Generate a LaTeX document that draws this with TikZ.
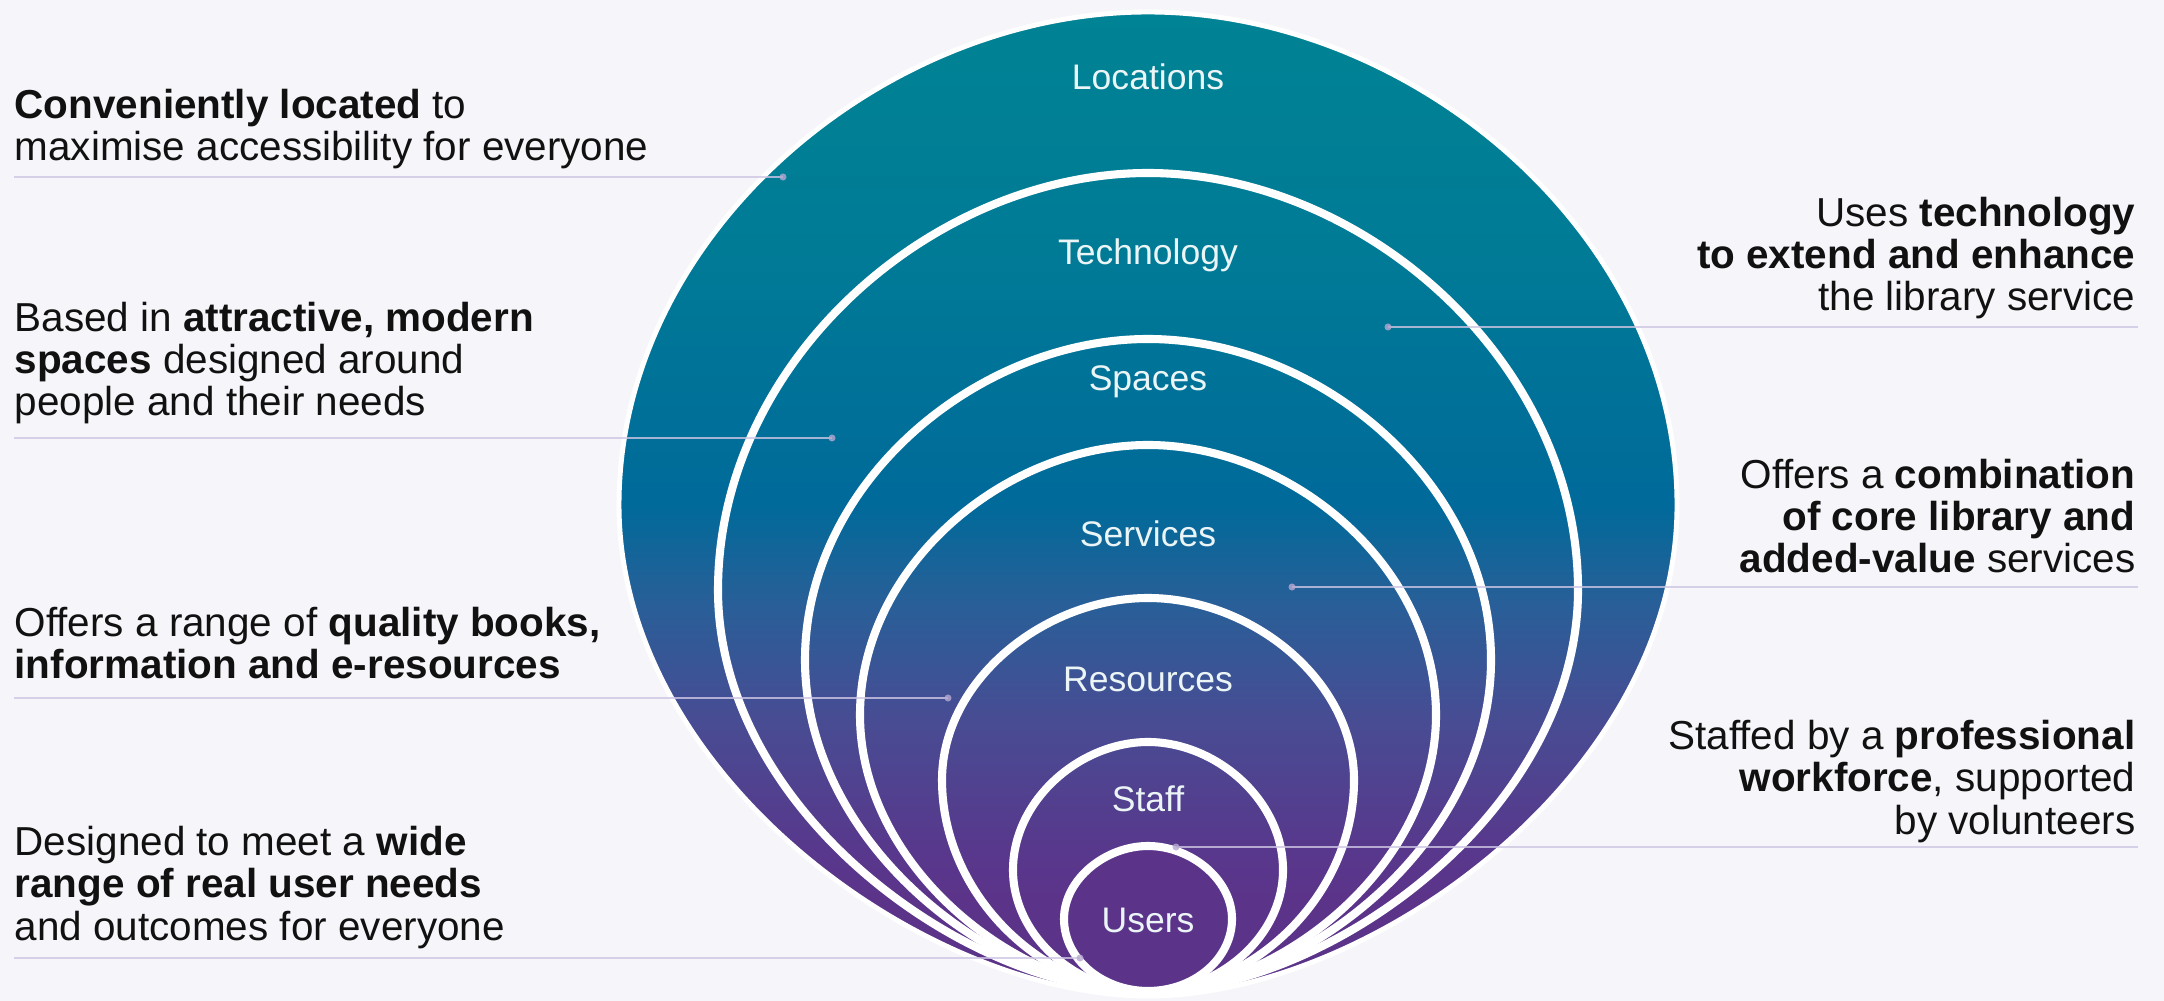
\documentclass[tikz,border=0pt]{standalone}
\usepackage{fontspec}
\setmainfont{Liberation Sans}
\usepackage{xcolor}
\usepackage{tikz}

\definecolor{fond}{RGB}{246,245,250}
\definecolor{encre}{RGB}{17,17,17}
\definecolor{trait}{RGB}{206,198,228}
\definecolor{violetbas}{RGB}{91,52,138}
\definecolor{violetmi}{RGB}{88,56,140}
\definecolor{indigo}{RGB}{72,76,147}
\definecolor{bleuviolet}{RGB}{40,95,152}
\definecolor{bleumi}{RGB}{0,106,154}
\definecolor{tealmi}{RGB}{0,123,150}
\definecolor{tealhaut}{RGB}{0,131,148}
\pgfdeclareverticalshading{degrade}{100bp}{color(0bp)=(violetbas); color(30bp)=(violetbas);
  color(32.5bp)=(violetmi); color(39bp)=(indigo); color(45bp)=(bleuviolet);
  color(50bp)=(bleumi); color(63bp)=(tealmi); color(75bp)=(tealhaut); color(100bp)=(tealhaut)}

\begin{document}
\begin{tikzpicture}[x=0.01cm,y=-0.01cm]
% Styles (MODIFIABLES)
\tikzstyle{anneau}=[draw=white,line width=2.3pt]
\tikzstyle{bord}=[draw=white,line width=1.4pt,shading=degrade]
\tikzstyle{etiquette}=[text=white!92!tealhaut,font=\fontsize{10.1}{12}\selectfont]
\tikzstyle{texteG}=[anchor=base west,align=left,inner sep=0,text=encre,font=\fontsize{11.5}{11.95}\selectfont]
\tikzstyle{texteD}=[anchor=base east,align=right,inner sep=0,text=encre,font=\fontsize{11.5}{11.95}\selectfont]
\tikzstyle{fleche}=[draw=trait,line width=0.55pt,opacity=0.8]
\tikzstyle{point}=[fill=trait!80!violetbas,opacity=0.8]
\tikzset{oeuf/.style args={#1/#2/#3/#4/#5}{insert path={
  (\CentreX,#3) .. controls ({\CentreX-#5*#4},#3) and ({\CentreX-#4},{#2+0.55*(#3-#2)}) .. ({\CentreX-#4},#2)
  .. controls ({\CentreX-#4},{#2-0.55*(#2-#1)}) and ({\CentreX-\Galbe*#4},#1) .. (\CentreX,#1)
  .. controls ({\CentreX+\Galbe*#4},#1) and ({\CentreX+#4},{#2-0.55*(#2-#1)}) .. ({\CentreX+#4},#2)
  .. controls ({\CentreX+#4},{#2+0.55*(#3-#2)}) and ({\CentreX+#5*#4},#3) .. (\CentreX,#3) -- cycle}}}
% Dimensions (MODIFIABLES)
\def\CentreX{1148}
\def\GaucheX{14}
\def\DroiteX{2138}
\def\Galbe{0.5}
% Fond
\fill[fond] (0,0) rectangle (2164,1001);
\useasboundingbox (0,0) rectangle (2164,1001);
% Anneaux (haut/milieu/bas/rayon/pincement)
\shade[bord] [oeuf=12/505/996/529/0.42];
\foreach \h/\m/\b/\r/\p in {173/590/992/430/0.42,339/660/992/343/0.45,445/715/992/288/0.45,
    598/780/992/206/0.5,742/870/992/135/0.52}
  \draw[anneau] [oeuf=\h/\m/\b/\r/\p];
\filldraw[anneau,fill=violetbas] [oeuf=846/919/991/84/0.55];
% Etiquettes des anneaux
\node[etiquette] (Lieux) at (\CentreX,77) {Locations};
\node[etiquette] (Techno) at (\CentreX,255) {Technology};
\node[etiquette] (Espaces) at (\CentreX,382) {Spaces};
\node[etiquette] (Services) at (\CentreX,534) {Services};
\node[etiquette] (Ressources) at (\CentreX,679) {Resources};
\node[etiquette] (Personnel) at (\CentreX,799) {Staff};
\node[etiquette] (Usagers) at (\CentreX,920) {Users};
% Textes de gauche (ancre sur la derniere ligne)
\node[texteG] (TLieux) at (\GaucheX,161) {\textbf{Conveniently located} to\\maximise accessibility for everyone};
\node[texteG] (TEspaces) at (\GaucheX,416) {Based in \textbf{attractive, modern}\\\textbf{spaces} designed around\\people and their needs};
\node[texteG] (TRessources) at (\GaucheX,679) {Offers a range of \textbf{quality books,}\\\textbf{information and e-resources}};
\node[texteG] (TUsagers) at (\GaucheX,940) {Designed to meet a \textbf{wide}\\\textbf{range of real user needs}\\and outcomes for everyone};
% Textes de droite
\node[texteD] (TTechno) at (2136,311) {Uses \textbf{technology}\\\textbf{to extend and enhance}\\the library service};
\node[texteD] (TServices) at (2136,573) {Offers a \textbf{combination}\\\textbf{of core library and}\\\textbf{added-value} services};
\node[texteD] (TPersonnel) at (2136,834) {Staffed by a \textbf{professional}\\\textbf{workforce}, supported\\by volunteers};
% Traits de rappel
\coordinate (LieuxA) at (\GaucheX,177);
\coordinate (LieuxB) at (783,177);
\coordinate (EspacesA) at (\GaucheX,438);
\coordinate (EspacesB) at (832,438);
\coordinate (RessourcesA) at (\GaucheX,698);
\coordinate (RessourcesB) at (948,698);
\coordinate (UsagersA) at (\GaucheX,958);
\coordinate (UsagersB) at (1080,958);
\coordinate (TechnoA) at (\DroiteX,327);
\coordinate (TechnoB) at (1388,327);
\coordinate (ServicesA) at (\DroiteX,587);
\coordinate (ServicesB) at (1292,587);
\coordinate (PersonnelA) at (\DroiteX,847);
\coordinate (PersonnelB) at (1176,847);
\draw[fleche] (LieuxA)--(LieuxB);
\draw[fleche] (EspacesA)--(EspacesB);
\draw[fleche] (RessourcesA)--(RessourcesB);
\draw[fleche] (UsagersA)--(UsagersB);
\draw[fleche] (TechnoA)--(TechnoB);
\draw[fleche] (ServicesA)--(ServicesB);
\draw[fleche] (PersonnelA)--(PersonnelB);
\foreach \q in {LieuxB,EspacesB,RessourcesB,UsagersB,TechnoB,ServicesB,PersonnelB}
  \fill[point] (\q) circle (1pt);
\end{tikzpicture}
\end{document}
